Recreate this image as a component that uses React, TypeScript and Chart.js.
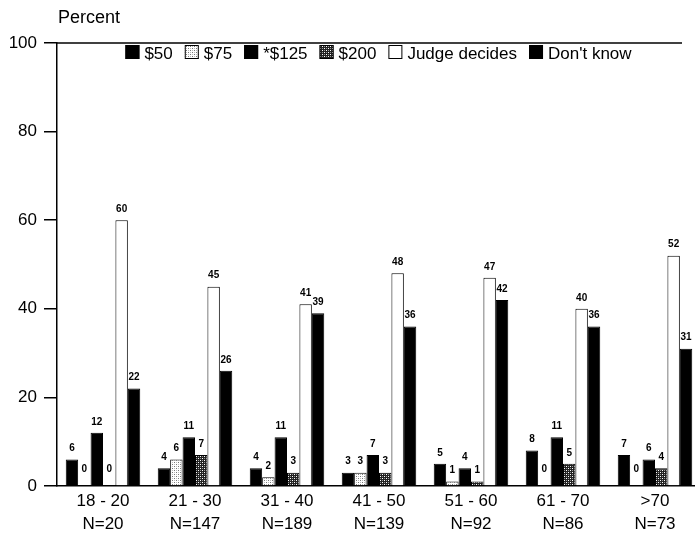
import React, { useEffect, useRef } from "react";
import { Chart, registerables } from "chart.js";

Chart.register(...registerables);

const categories: string[][] = [
  ["18 - 20", "N=20"],
  ["21 - 30", "N=147"],
  ["31 - 40", "N=189"],
  ["41 - 50", "N=139"],
  ["51 - 60", "N=92"],
  ["61 - 70", "N=86"],
  [">70", "N=73"],
];
const seriesNames = ["$50", "$75", "*$125", "$200", "Judge decides", "Don't know"];
const s50 = [6, 4, 4, 3, 5, 8, 7];
const s75 = [0, 6, 2, 3, 1, 0, 0];
const s125 = [12, 11, 11, 7, 4, 11, 6];
const s200 = [0, 7, 3, 3, 1, 5, 4];
const judge = [60, 45, 41, 48, 47, 40, 52];
const dontKnow = [22, 26, 39, 36, 42, 36, 31];
const yTicks = [0, 20, 40, 60, 80, 100];

const FONT = "'Liberation Sans', Arial, Helvetica, sans-serif";

function makePattern(kind: "light" | "dark"): CanvasPattern | string {
  const c = document.createElement("canvas");
  c.width = 4;
  c.height = 4;
  const g = c.getContext("2d");
  if (!g) return kind === "light" ? "#ccc" : "#444";
  if (kind === "light") {
    g.fillStyle = "#fff";
    g.fillRect(0, 0, 4, 4);
    g.fillStyle = "#777";
    g.fillRect(0, 0, 1, 1);
    g.fillRect(2, 2, 1, 1);
    g.fillStyle = "#bbb";
    g.fillRect(2, 0, 1, 1);
    g.fillRect(0, 2, 1, 1);
  } else {
    g.fillStyle = "#222";
    g.fillRect(0, 0, 4, 4);
    g.fillStyle = "#fff";
    g.fillRect(0, 0, 1, 1);
    g.fillRect(2, 2, 1, 1);
    g.fillStyle = "#999";
    g.fillRect(2, 0, 1, 1);
    g.fillRect(0, 2, 1, 1);
  }
  const p = g.createPattern(c, "repeat");
  return p || (kind === "light" ? "#ccc" : "#444");
}

export default function App() {
  const ref = useRef<HTMLCanvasElement | null>(null);

  useEffect(() => {
    const canvas = ref.current;
    if (!canvas) return;
    const light = makePattern("light");
    const dark = makePattern("dark");
    const fills: any[] = ["#000", light, "#000", dark, "#fff", "#000"];
    const values = [s50, s75, s125, s200, judge, dontKnow];

    const overlay = {
      id: "overlay",
      afterDatasetsDraw(chart: any) {
        const ctx = chart.ctx as CanvasRenderingContext2D;
        const area = chart.chartArea;
        ctx.save();
        // value labels
        ctx.fillStyle = "#000";
        ctx.font = `bold 10px ${FONT}`;
        ctx.textAlign = "center";
        ctx.textBaseline = "bottom";
        chart.data.datasets.forEach((ds: any, di: number) => {
          const meta = chart.getDatasetMeta(di);
          meta.data.forEach((bar: any, i: number) => {
            const v = ds.data[i];
            const y = v === 0 ? bar.y - 12 : bar.y - 6;
            ctx.fillText(String(v), bar.x, y);
          });
        });
        // top line
        ctx.strokeStyle = "#000";
        ctx.lineWidth = 1.5;
        ctx.beginPath();
        ctx.moveTo(area.left, area.top);
        ctx.lineTo(682, area.top);
        ctx.stroke();
        // axis title
        ctx.font = `18px ${FONT}`;
        ctx.textAlign = "left";
        ctx.textBaseline = "alphabetic";
        ctx.fillText("Percent", 58, 23);
        // legend
        ctx.font = `17px ${FONT}`;
        const box = 14;
        const gapText = 5;
        const gapItem = 12;
        const widths = seriesNames.map((n) => box + gapText + ctx.measureText(n).width);
        const total = widths.reduce((a, b) => a + b, 0) + gapItem * (seriesNames.length - 1);
        let x = 125 + ((632 - 125) - total) / 2;
        const by = area.top + 2;
        seriesNames.forEach((n, i) => {
          ctx.fillStyle = fills[i];
          ctx.fillRect(x, by, box, box);
          ctx.strokeStyle = "#000";
          ctx.lineWidth = 1;
          ctx.strokeRect(x + 0.5, by + 0.5, box - 1, box - 1);
          ctx.fillStyle = "#000";
          ctx.fillText(n, x + box + gapText, by + box);
          x += widths[i] + gapItem;
        });
        ctx.restore();
      },
    };

    const chart = new Chart(canvas, {
      type: "bar",
      data: {
        labels: categories,
        datasets: seriesNames.map((name, i) => ({
          label: name,
          data: values[i],
          backgroundColor: fills[i],
          borderColor: "#000",
          borderWidth: 1,
          borderSkipped: "bottom",
          categoryPercentage: 0.81,
          barPercentage: 1,
        })),
      },
      options: {
        responsive: false,
        animation: false,
        devicePixelRatio: 1,
        layout: { padding: { top: 43, left: 0, right: 0, bottom: 0 } },
        plugins: {
          legend: { display: false },
          tooltip: { enabled: false },
          title: { display: false },
        },
        scales: {
          x: {
            grid: { display: false },
            border: { display: true, color: "#000", width: 1.5 },
            ticks: {
              color: "#000",
              font: { family: FONT, size: 17, lineHeight: 1.35 },
              padding: -4,
              maxRotation: 0,
              autoSkip: false,
            },
            afterFit(scale: any) {
              scale.height = 48;
            },
          },
          y: {
            min: 0,
            max: 100,
            afterBuildTicks(scale: any) {
              scale.ticks = yTicks.map((v) => ({ value: v }));
            },
            grid: {
              display: true,
              drawOnChartArea: false,
              drawTicks: true,
              tickLength: 13,
              color: "#000",
              lineWidth: 1.5,
            },
            border: { display: true, color: "#000", width: 1.5 },
            ticks: {
              color: "#000",
              font: { family: FONT, size: 17 },
              padding: 7,
            },
            afterFit(scale: any) {
              scale.width = 57;
            },
          },
        },
      },
      plugins: [overlay],
    });
    return () => chart.destroy();
  }, []);

  return (
    <div
      style={{
        position: "absolute",
        top: 0,
        left: 0,
        width: 695,
        height: 534,
        overflow: "hidden",
        background: "#fff",
      }}
    >
      <canvas ref={ref} width={701} height={534} />
    </div>
  );
}
